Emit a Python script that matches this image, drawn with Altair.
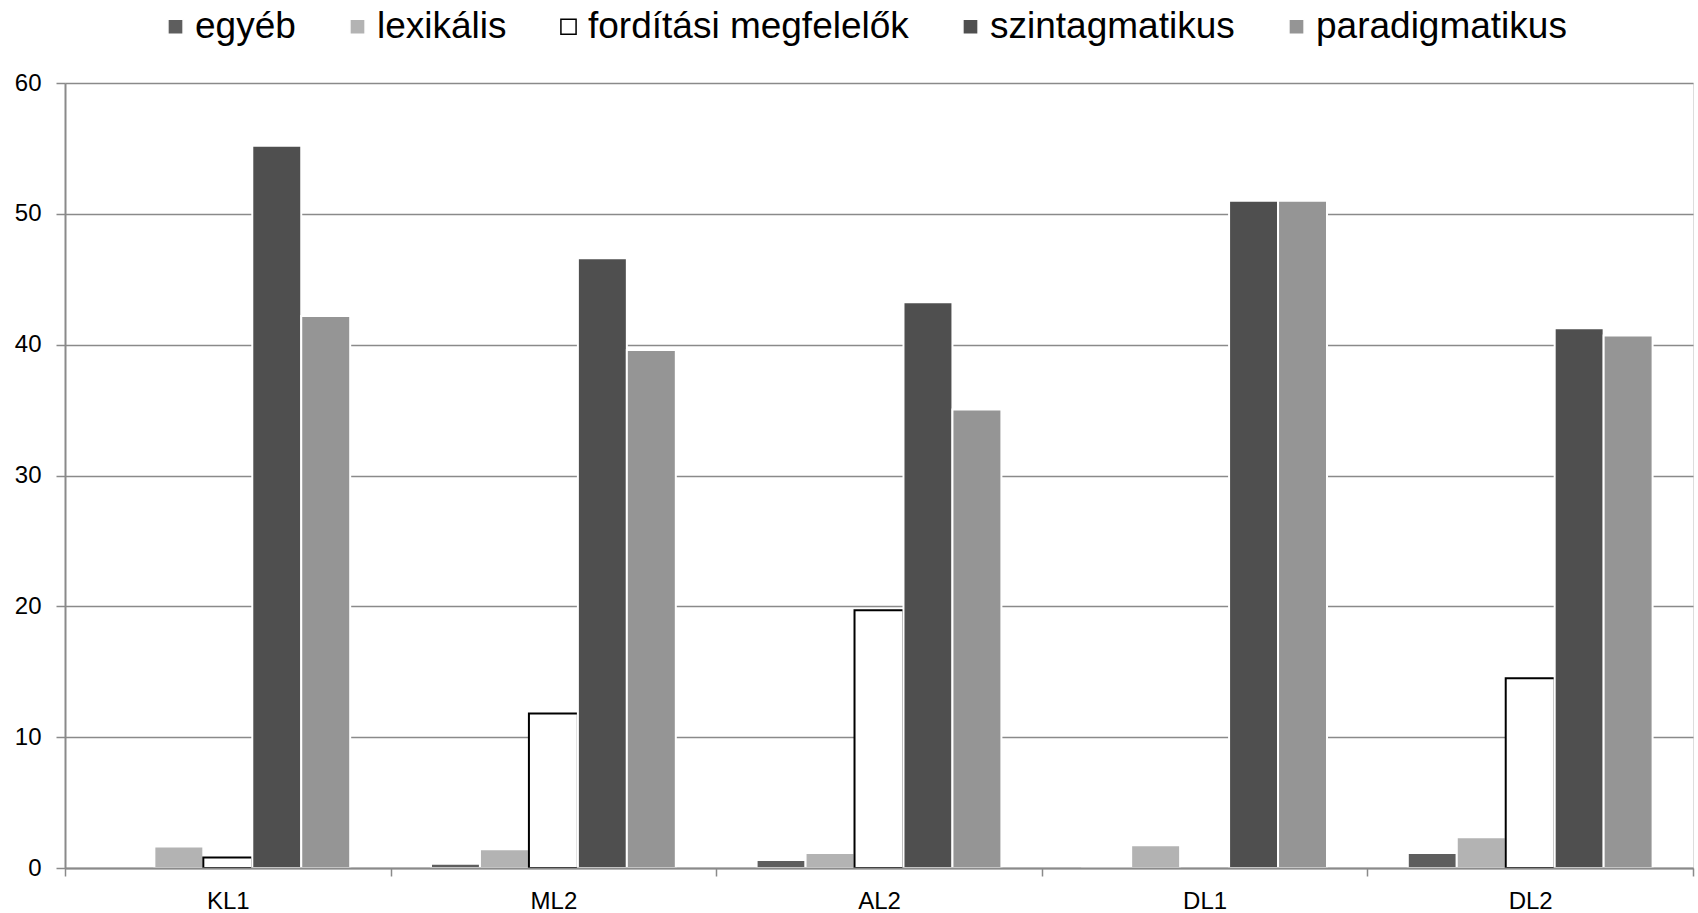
import altair as alt
import pandas as pd

groups = ["KL1", "ML2", "AL2", "DL1", "DL2"]
series = ["egyéb", "lexikális", "fordítási megfelelők", "szintagmatikus", "paradigmatikus"]

egyeb = [0.0, 0.33, 0.62, 0.15, 1.15]
lexikalis = [1.65, 1.43, 1.15, 1.74, 2.35]
forditasi = [0.8, 11.8, 19.7, 0.0, 14.5]
szintagmatikus = [55.2, 46.6, 43.25, 51.0, 41.25]
paradigmatikus = [42.2, 39.6, 35.05, 51.0, 40.7]

fills = ["#5e5e5e", "#b3b3b3", "#ffffff", "#4f4f4f", "#959595"]
strokes = ["#ffffff", "#ffffff", "#000000", "#ffffff", "#ffffff"]

rows = []
for name, vals in zip(series, [egyeb, lexikalis, forditasi, szintagmatikus, paradigmatikus]):
    for g, v in zip(groups, vals):
        rows.append({"csoport": g, "tipus": name, "ertek": v})
df = pd.DataFrame(rows)

font = "Liberation Sans"

legend = alt.Legend(
    title=None, orient="none", direction="horizontal", columns=5,
    legendX=92, legendY=-75, symbolType="square", symbolSize=230,
    symbolStrokeWidth=1.5, labelFontSize=37, labelFont=font,
    labelColor="#000000", labelOffset=1, labelLimit=0, columnPadding=43,
    padding=0, symbolOpacity=1,
)

chart = alt.Chart(df).transform_filter(
    "datum.ertek > 0"
).mark_bar(strokeWidth=2).encode(
    x=alt.X(
        "csoport:N",
        sort=groups,
        scale=alt.Scale(paddingInner=0, paddingOuter=0),
        axis=alt.Axis(
            title=None, labelAngle=0, tickBand="extent", tickSize=8,
            labelPadding=13, labelFontSize=24, labelColor="#000000",
            domainColor="#8a8a8a", domainWidth=2, tickColor="#8a8a8a",
            tickWidth=1.5, grid=False, labelFont=font, zindex=1,
        ),
    ),
    xOffset=alt.XOffset(
        "tipus:N", sort=series,
        scale=alt.Scale(domain=series, paddingInner=0, paddingOuter=0.825),
    ),
    y=alt.Y(
        "ertek:Q",
        scale=alt.Scale(domain=[0, 60]),
        axis=alt.Axis(
            title=None, values=[0, 10, 20, 30, 40, 50, 60], tickSize=9,
            labelPadding=15, labelFontSize=24, labelColor="#000000",
            domainColor="#8a8a8a", domainWidth=2, tickColor="#8a8a8a",
            tickWidth=1.5, gridColor="#8a8a8a", gridWidth=1.3, labelFont=font,
        ),
    ),
    fill=alt.Fill("tipus:N", scale=alt.Scale(domain=series, range=fills), legend=legend),
    stroke=alt.Stroke("tipus:N", scale=alt.Scale(domain=series, range=strokes), legend=legend),
).properties(
    width=1628,
    height=785,
    autosize=alt.AutoSizeParams(type="none"),
    padding={"left": 65, "top": 83, "right": 5, "bottom": 45},
).configure_view(
    stroke=None
).configure(
    background="#ffffff"
)

chart.save("out.html", embed_options={"renderer": "svg", "actions": False})
